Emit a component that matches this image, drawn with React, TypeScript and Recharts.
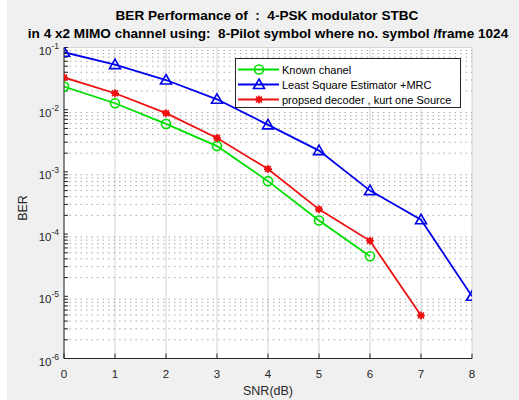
import React from 'react';
import { LineChart, Line, XAxis, YAxis, CartesianGrid, ReferenceLine, Legend } from 'recharts';

const snr = [0, 1, 2, 3, 4, 5, 6, 7, 8];
const knownChannel = [0.0235, 0.0127, 0.0059, 0.0026, 0.00071, 0.000165, 0.000044, null, null];
const lseMrc = [0.084, 0.053, 0.03, 0.0147, 0.0057, 0.0022, 0.0005, 0.00017, 0.00001];
const proposed = [0.033, 0.0184, 0.0088, 0.0035, 0.00111, 0.00025, 0.000078, 0.0000049, null];

const xTicks = [0, 1, 2, 3, 4, 5, 6, 7, 8];
const yMajorTicks = [1e-6, 1e-5, 1e-4, 1e-3, 1e-2, 1e-1];
const minorMultipliers = [2, 3, 4, 5, 6, 7, 8, 9];
const yMinorTicks = yMajorTicks.slice(0, 5).flatMap((d) => minorMultipliers.map((m) => m * d));
const yAllTicks = [...yMajorTicks, ...yMinorTicks].sort((a, b) => a - b);

const titleLines = [
  'BER Performance of  :  4-PSK modulator STBC',
  'in 4 x2 MIMO channel using:  8-Pilot symbol where no. symbol /frame 1024',
];
const seriesNames = ['Known chanel', 'Least Square Estimator +MRC', 'propsed decoder , kurt one Source'];

const data = snr.map((s, i) => ({
  snr: s,
  known: knownChannel[i],
  lse: lseMrc[i],
  proposed: proposed[i],
}));

const FONT = '"Liberation Sans", Arial, Helvetica, sans-serif';
const AX = '#262626';
const GREEN = '#00e000';
const BLUE = '#0000ee';
const RED = '#ee1111';

type Kind = 'circle' | 'triangle' | 'star';

const MarkerShape = ({ kind, cx, cy, color }: { kind: Kind; cx: number; cy: number; color: string }) => {
  if (kind === 'circle') {
    return <circle cx={cx} cy={cy} r={4.5} fill="none" stroke={color} strokeWidth={1.6} />;
  }
  if (kind === 'triangle') {
    return (
      <path
        d={`M${cx},${cy - 5.5} L${cx + 5.5},${cy + 4} L${cx - 5.5},${cy + 4} Z`}
        fill="none"
        stroke={color}
        strokeWidth={1.6}
        strokeLinejoin="miter"
      />
    );
  }
  return (
    <g>
      <circle cx={cx} cy={cy} r={3} fill={color} />
      <line x1={cx - 4} y1={cy} x2={cx + 4} y2={cy} stroke={color} strokeWidth={1.6} />
      <line x1={cx} y1={cy - 4} x2={cx} y2={cy + 4} stroke={color} strokeWidth={1.6} />
      <line x1={cx - 3} y1={cy - 3} x2={cx + 3} y2={cy + 3} stroke={color} strokeWidth={1.4} />
      <line x1={cx - 3} y1={cy + 3} x2={cx + 3} y2={cy - 3} stroke={color} strokeWidth={1.4} />
    </g>
  );
};

const makeDot = (kind: Kind, color: string) => (p: any) => {
  const { cx, cy, index } = p;
  if (cx == null || cy == null || p.value == null) return <g key={`d-${kind}-${index}`} />;
  return (
    <g key={`d-${kind}-${index}`}>
      <MarkerShape kind={kind} cx={cx} cy={cy} color={color} />
    </g>
  );
};

const YTick = (props: any) => {
  const { x, y, payload } = props;
  const v = payload.value;
  const exp = Math.round(Math.log10(v));
  if (Math.abs(v - Math.pow(10, exp)) / v > 1e-6) return <g />;
  return (
    <text x={x} y={y + 7} textAnchor="end" fontSize={11.5} fill={AX} fontFamily={FONT}>
      <tspan>10</tspan>
      <tspan dy={-6} fontSize={8.5}>{String(exp)}</tspan>
    </text>
  );
};

const legendItems: { name: string; kind: Kind; color: string }[] = [
  { name: seriesNames[0], kind: 'circle', color: GREEN },
  { name: seriesNames[1], kind: 'triangle', color: BLUE },
  { name: seriesNames[2], kind: 'star', color: RED },
];

const LegendBox = () => (
  <div
    style={{
      width: 226,
      height: 50,
      boxSizing: 'border-box',
      border: `1px solid ${AX}`,
      background: '#fff',
      paddingTop: 3,
      fontFamily: FONT,
      fontSize: 11,
      color: '#000',
    }}
  >
    {legendItems.map((it) => (
      <div key={it.name} style={{ height: 15, display: 'flex', alignItems: 'center', whiteSpace: 'nowrap' }}>
        <svg width={46} height={15} style={{ display: 'block', flex: 'none' }}>
          <line x1={2} y1={7.5} x2={43} y2={7.5} stroke={it.color} strokeWidth={1.8} />
          <MarkerShape kind={it.kind} cx={23} cy={7.5} color={it.color} />
        </svg>
        <span>{it.name}</span>
      </div>
    ))}
  </div>
);

export default function App() {
  return (
    <div style={{ position: 'absolute', left: 0, top: 0, width: 519, height: 400, background: '#fff' }}>
      <div style={{ position: 'absolute', left: 7, top: 0, width: 512, height: 400, background: '#f0f0f0' }} />
      <div style={{ position: 'absolute', left: 0, top: 0 }}>
        <LineChart width={519} height={400} data={data} margin={{ top: 47.5, right: 47, bottom: 0, left: 0 }}>
          <CartesianGrid
            xAxisId={0}
            yAxisId="right"
            stroke="#d4d4d4"
            strokeWidth={1}
            fill="#ffffff"
            fillOpacity={1}
          />
          {yMinorTicks.map((v) => (
            <ReferenceLine
              key={`m-${v}`}
              y={v}
              yAxisId={0}
              stroke="#a8a8a8"
              strokeWidth={1}
              strokeDasharray="1.5 4"
              ifOverflow="hidden"
            />
          ))}
          <XAxis
            xAxisId={0}
            dataKey="snr"
            type="number"
            domain={[0, 8]}
            ticks={xTicks}
            height={41.5}
            tickSize={-5}
            tickMargin={16}
            stroke={AX}
            axisLine={{ stroke: AX, strokeWidth: 1 }}
            tickLine={{ stroke: AX }}
            tick={{ fontSize: 11.5, fill: AX, fontFamily: FONT }}
            allowDataOverflow
          />
          <XAxis
            xAxisId="top"
            orientation="top"
            dataKey="snr"
            type="number"
            domain={[0, 8]}
            ticks={xTicks}
            height={0}
            tickSize={-5}
            tick={false}
            axisLine={{ stroke: AX, strokeWidth: 1 }}
            tickLine={{ stroke: AX }}
            allowDataOverflow
          />
          <YAxis
            yAxisId={0}
            scale="log"
            type="number"
            domain={[1e-6, 1e-1]}
            ticks={yAllTicks}
            interval={0}
            width={64}
            tickSize={-4}
            tickMargin={9}
            axisLine={{ stroke: AX, strokeWidth: 1 }}
            tickLine={{ stroke: AX }}
            tick={<YTick />}
            allowDataOverflow
          />
          <YAxis
            yAxisId="right"
            orientation="right"
            scale="log"
            type="number"
            domain={[1e-6, 1e-1]}
            ticks={yMajorTicks}
            interval={0}
            width={0}
            tickSize={-4}
            tick={false}
            axisLine={{ stroke: AX, strokeWidth: 1 }}
            tickLine={{ stroke: AX }}
            allowDataOverflow
          />
          <Legend
            layout="horizontal"
            verticalAlign="middle"
            align="center"
            wrapperStyle={{ left: 235, top: 58, width: 226, height: 50 }}
            content={() => <LegendBox />}
          />
          <Line
            xAxisId={0}
            yAxisId={0}
            dataKey="known"
            name={seriesNames[0]}
            stroke={GREEN}
            strokeWidth={1.8}
            dot={makeDot('circle', GREEN)}
            activeDot={false}
            isAnimationActive={false}
          />
          <Line
            xAxisId={0}
            yAxisId={0}
            dataKey="lse"
            name={seriesNames[1]}
            stroke={BLUE}
            strokeWidth={1.8}
            dot={makeDot('triangle', BLUE)}
            activeDot={false}
            isAnimationActive={false}
          />
          <Line
            xAxisId={0}
            yAxisId={0}
            dataKey="proposed"
            name={seriesNames[2]}
            stroke={RED}
            strokeWidth={1.8}
            dot={makeDot('star', RED)}
            activeDot={false}
            isAnimationActive={false}
          />
          <text
            x={267}
            y={20}
            textAnchor="middle"
            fontSize={13.6}
            fontWeight="bold"
            fill="#000"
            fontFamily={FONT}
            style={{ whiteSpace: 'pre' }}
          >
            {titleLines[0]}
          </text>
          <text
            x={268}
            y={37.5}
            textAnchor="middle"
            fontSize={13.6}
            fontWeight="bold"
            fill="#000"
            fontFamily={FONT}
            style={{ whiteSpace: 'pre' }}
          >
            {titleLines[1]}
          </text>
          <text x={268} y={395} textAnchor="middle" fontSize={12.5} fill={AX} fontFamily={FONT}>
            SNR(dB)
          </text>
          <text
            x={27}
            y={208}
            textAnchor="middle"
            fontSize={12.5}
            fill={AX}
            fontFamily={FONT}
            transform="rotate(-90 27 208)"
          >
            BER
          </text>
        </LineChart>
      </div>
    </div>
  );
}
